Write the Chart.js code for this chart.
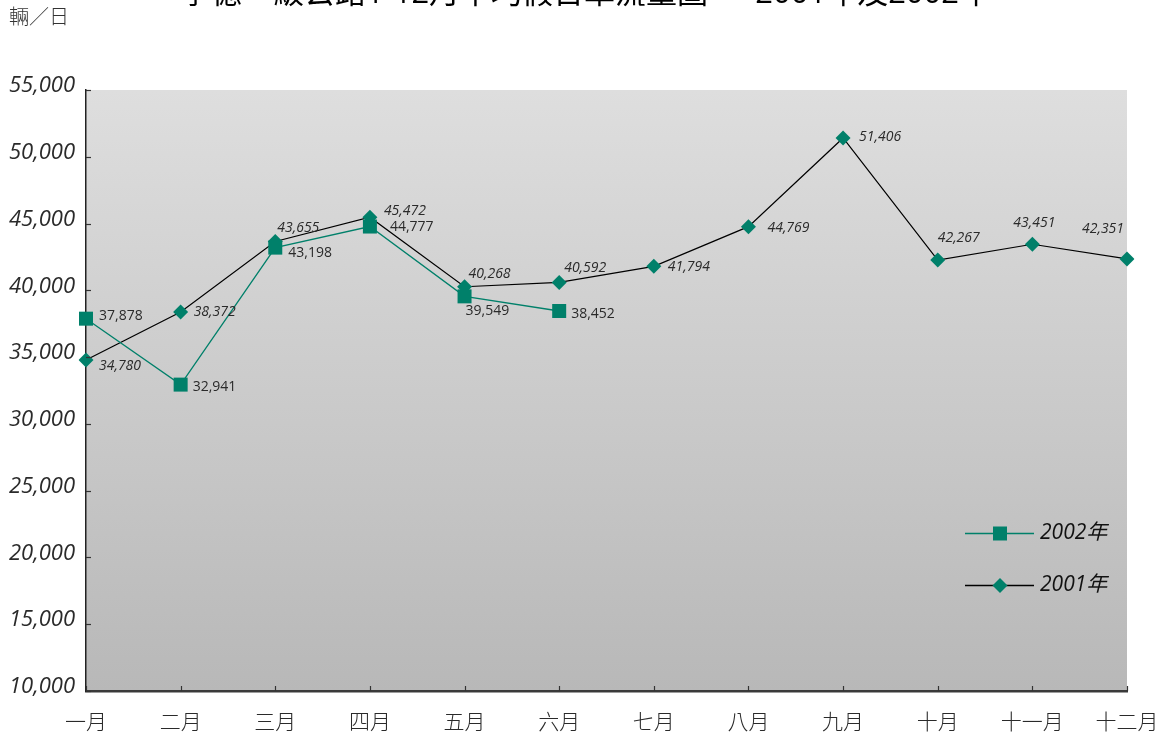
<!DOCTYPE html>
<html>
<head>
<meta charset="utf-8">
<script src="https://cdn.jsdelivr.net/npm/chart.js@4"></script>
<style>
html,body{margin:0;padding:0;background:#fff;}
#wrap{width:1165px;height:738px;position:relative;}
</style>
</head>
<body>
<div id="wrap"><canvas id="c" width="1165" height="738"></canvas></div>
<script>
const titleText = "寧德一級公路1-12月平均假日車流量圖 — 2001年及2002年";
const unitText = "輛／日";
const months = ["一月","二月","三月","四月","五月","六月","七月","八月","九月","十月","十一月","十二月"];
const series2002 = [37878, 32941, 43198, 44777, 39549, 38452, null, null, null, null, null, null];
const series2001 = [34780, 38372, 43655, 45472, 40268, 40592, 41794, 44769, 51406, 42267, 43451, 42351];
const label2002 = "2002年";
const label2001 = "2001年";
const yMin = 10000, yMax = 55000, yStep = 5000;

// label offsets (dx, dy) relative to each point, left aligned
const off2002 = [[13,-3],[12,2],[13,5],[20,0],[1,15],[12,3]];
const off2001 = [[13,6],[13,0],[2,-14],[14,-6],[4,-13],[5,-14],[14,1],[19,1],[16,-1],[0,-22],[-19,-21],[-45,-30]];

const TEAL = "#00806a";
const FONT = "'Open Sans', 'Noto Sans CJK TC', sans-serif";
const CJK = "'Noto Sans CJK TC', 'Open Sans', sans-serif";

const fmt = v => v.toLocaleString('en-US');

const deco = {
  id: 'deco',
  beforeDraw(chart) {
    const {ctx, chartArea: a} = chart;
    const g = ctx.createLinearGradient(0, a.top, 0, a.bottom);
    g.addColorStop(0, '#dedede');
    g.addColorStop(1, '#b8b8b8');
    ctx.save();
    ctx.fillStyle = g;
    ctx.fillRect(a.left, a.top, a.right - a.left, a.bottom - a.top);
    ctx.restore();
  },
  afterDraw(chart) {
    const {ctx, chartArea: a, scales} = chart;
    ctx.save();
    // tick marks inside
    ctx.strokeStyle = '#333';
    ctx.lineWidth = 1.2;
    scales.y.ticks.forEach(t => {
      const y = Math.round(scales.y.getPixelForValue(t.value)) + 0.5;
      ctx.beginPath(); ctx.moveTo(a.left, y); ctx.lineTo(a.left + 5, y); ctx.stroke();
    });
    months.forEach((m, i) => {
      const x = Math.round(scales.x.getPixelForValue(i)) + 0.5;
      ctx.beginPath(); ctx.moveTo(x, a.bottom); ctx.lineTo(x, a.bottom - 5); ctx.stroke();
    });
    // y tick labels
    ctx.fillStyle = '#2a2a2a';
    ctx.font = `italic 22px ${FONT}`;
    ctx.textAlign = 'right';
    ctx.textBaseline = 'middle';
    scales.y.ticks.forEach(t => {
      ctx.fillText(fmt(t.value), 75, scales.y.getPixelForValue(t.value) - 4);
    });
    // x tick labels
    ctx.fillStyle = '#2a2a2a';
    ctx.font = `300 21px ${CJK}`;
    ctx.textAlign = 'center';
    months.forEach((m, i) => {
      ctx.fillText(m, scales.x.getPixelForValue(i), 721);
    });
    // title (cut off at top)
    ctx.fillStyle = '#000';
    ctx.font = `31px ${FONT}`;
    ctx.textAlign = 'center';
    ctx.textBaseline = 'alphabetic';
    ctx.fillText(titleText, 585, 3);
    // unit
    ctx.fillStyle = '#333';
    ctx.font = `300 20px ${CJK}`;
    ctx.textAlign = 'left';
    ctx.textBaseline = 'middle';
    ctx.fillText(unitText, 9, 16);
    // data labels
    const drawLabels = (dsIndex, offs, italic) => {
      const meta = chart.getDatasetMeta(dsIndex);
      const data = chart.data.datasets[dsIndex].data;
      ctx.font = `${italic ? 'italic ' : ''}14px ${FONT}`;
      ctx.fillStyle = '#2a2a2a';
      ctx.textAlign = 'left';
      ctx.textBaseline = 'middle';
      meta.data.forEach((pt, i) => {
        if (data[i] == null) return;
        const o = offs[i];
        ctx.fillText(fmt(data[i]), pt.x + o[0], pt.y + o[1]);
      });
    };
    drawLabels(0, off2002, false);
    drawLabels(1, off2001, true);
    // legend
    const items = [
      {ds: chart.data.datasets[0], y: 533},
      {ds: chart.data.datasets[1], y: 585}
    ];
    items.forEach(it => {
      ctx.strokeStyle = it.ds.borderColor;
      ctx.lineWidth = 1.3;
      ctx.beginPath(); ctx.moveTo(965, it.y + 0.5); ctx.lineTo(1034, it.y + 0.5); ctx.stroke();
      ctx.fillStyle = TEAL;
      ctx.beginPath();
      if (it.ds.pointStyle === 'rect') {
        ctx.rect(993, it.y - 6.5, 14, 14);
      } else {
        ctx.moveTo(1000, it.y - 7); ctx.lineTo(1007.5, it.y + 0.5); ctx.lineTo(1000, it.y + 8); ctx.lineTo(992.5, it.y + 0.5); ctx.closePath();
      }
      ctx.fill();
      ctx.fillStyle = '#111';
      ctx.font = `italic 21px ${FONT}`;
      ctx.textAlign = 'left';
      ctx.textBaseline = 'middle';
      ctx.fillText(it.ds.label, 1040, it.y);
    });
    ctx.restore();
  }
};

new Chart(document.getElementById('c'), {
  type: 'line',
  data: {
    labels: months,
    datasets: [
      {
        label: label2002, data: series2002,
        borderColor: TEAL, borderWidth: 1.3,
        pointStyle: 'rect', pointRadius: 9.9,
        pointBackgroundColor: TEAL, pointBorderWidth: 0,
        spanGaps: false, tension: 0
      },
      {
        label: label2001, data: series2001,
        borderColor: '#000', borderWidth: 1.2,
        pointStyle: 'rectRot', pointRadius: 7.5,
        pointBackgroundColor: TEAL, pointBorderWidth: 0,
        tension: 0
      }
    ]
  },
  options: {
    responsive: false,
    animation: false,
    devicePixelRatio: 1,
    layout: {padding: {top: 90, right: 38, left: 0, bottom: 0}},
    plugins: {legend: {display: false}, tooltip: {enabled: false}, title: {display: false}},
    scales: {
      x: {
        offset: false,
        grid: {display: false, drawTicks: false},
        border: {display: true, color: '#3a3a3a', width: 2.5},
        ticks: {display: false},
        afterFit: s => { s.height = 47; }
      },
      y: {
        min: yMin, max: yMax,
        grid: {display: false, drawTicks: false},
        border: {display: true, color: '#222', width: 1.5},
        ticks: {display: false, stepSize: yStep},
        afterFit: s => { s.width = 86; }
      }
    }
  },
  plugins: [deco]
});
</script>
</body>
</html>
